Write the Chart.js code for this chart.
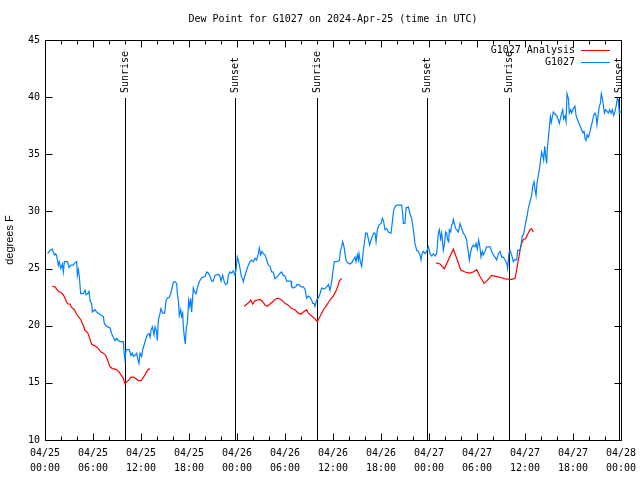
<!DOCTYPE html>
<html>
<head>
<meta charset="utf-8">
<script src="https://cdn.jsdelivr.net/npm/chart.js@4"></script>
<style>
html,body{margin:0;padding:0;background:#fff;}
canvas{display:block;}
</style>
</head>
<body>
<canvas id="c" width="640" height="480"></canvas>
<script>
// ---- data (time in hours since 04/25 00:00 UTC) ----
const titleText = 'Dew Point for G1027 on 2024-Apr-25 (time in UTC)';
const yLabel = 'degrees F';
const xTickDates = ['04/25','04/25','04/25','04/25','04/26','04/26','04/26','04/26','04/27','04/27','04/27','04/27','04/28'];
const xTickTimes = ['00:00','06:00','12:00','18:00','00:00','06:00','12:00','18:00','00:00','06:00','12:00','18:00','00:00'];
const seriesNames = ['G1027 Analysis', 'G1027'];

const eventHours = [10.0, 23.8, 34.0, 47.8, 58.0, 71.75];
const eventLabels = ['Sunrise','Sunset','Sunrise','Sunset','Sunrise','Sunset'];

const obsHours = [0.33,0.63,0.92,1.17,1.33,1.46,1.67,1.79,1.96,2.17,2.29,2.42,2.83,3.0,3.25,3.54,3.75,3.96,4.04,4.17,4.29,4.46,4.79,5.0,5.13,5.33,5.5,5.63,5.83,5.92,6.25,6.46,6.67,7.08,7.29,7.42,7.63,7.83,8.13,8.33,8.54,8.75,8.96,9.17,9.38,9.79,9.92,10.0,10.13,10.54,10.75,10.92,11.08,11.25,11.46,11.58,11.75,11.88,12.08,12.21,12.42,12.63,12.79,13.0,13.13,13.25,13.42,13.63,13.75,13.92,14.04,14.17,14.38,14.5,
14.71,14.96,15.13,15.29,15.54,15.71,15.88,16.04,16.25,16.46,16.54,16.67,16.79,16.96,17.08,17.21,17.29,17.42,17.54,17.67,17.79,17.96,18.08,18.21,18.33,18.46,18.54,18.67,18.88,19.04,19.29,19.58,20.0,20.21,20.42,20.63,20.83,21.04,21.25,21.67,21.88,22.0,22.21,22.38,22.58,22.79,22.92,23.13,23.33,23.54,23.75,23.88,24.04,24.21,24.38,24.54,24.71,24.79,25.0,25.21,25.42,25.63,25.83,26.04,26.25,26.46,26.67,26.79,26.96,27.13,27.29,27.5,27.71,27.92,28.13,28.33,28.54,28.75,
29.17,29.38,29.58,29.79,30.0,30.21,30.75,30.83,31.04,31.33,31.5,31.75,32.0,32.29,32.5,32.71,32.92,33.13,33.33,33.46,33.63,33.75,33.96,34.17,34.38,34.58,34.92,35.21,35.42,35.63,35.83,35.96,36.17,36.46,36.79,36.92,37.08,37.21,37.38,37.5,37.63,37.83,38.13,38.33,38.54,38.75,38.88,39.04,39.17,39.25,39.42,39.58,39.71,39.79,39.92,40.08,40.25,40.42,40.58,40.75,40.92,41.08,41.25,41.38,41.54,41.75,42.0,42.17,42.33,42.5,42.71,42.92,43.25,43.42,
43.58,43.75,43.96,44.58,44.71,44.79,45.0,45.13,45.42,45.63,45.83,46.04,46.25,46.46,46.67,46.88,47.0,47.13,47.29,47.5,47.71,47.92,48.13,48.33,48.54,48.75,48.96,49.17,49.29,49.46,49.58,49.71,49.79,49.92,50.08,50.21,50.33,50.46,50.54,50.71,50.83,50.96,51.04,51.17,51.33,51.46,51.67,51.88,52.08,52.29,52.5,52.71,52.83,52.96,53.04,53.17,53.33,53.54,53.75,53.88,54.04,54.21,54.38,54.5,54.67,54.79,55.0,55.21,55.63,55.83,56.04,56.25,56.46,56.67,56.88,57.08,57.29,57.5,
57.71,57.83,58.0,58.13,58.33,58.54,58.75,58.96,59.08,59.38,59.5,59.67,59.83,60.0,60.13,60.29,60.42,60.63,60.83,60.96,61.13,61.25,61.38,61.5,61.67,61.83,61.96,62.08,62.21,62.33,62.46,62.58,62.71,62.79,62.92,63.04,63.17,63.29,63.42,63.54,63.75,63.96,64.17,64.29,64.42,64.58,64.71,64.83,65.0,65.13,65.25,65.42,65.54,65.71,65.83,66.04,66.25,66.38,66.58,66.75,67.0,67.21,67.38,67.5,67.63,67.75,67.92,68.13,68.25,68.42,68.58,68.75,68.88,69.0,69.17,69.29,69.42,69.54,69.67,69.79,69.92,70.08,70.25,70.42,70.58,70.75,70.92,71.08,71.25,71.42,71.54,71.67,71.79,71.96];
const obsValues = [26.3,26.6,26.7,26.2,26.3,26.1,25.3,25.6,25.0,25.4,24.7,25.6,25.6,25.1,25.3,25.3,25.5,25.6,24.4,24.9,24.3,22.8,22.8,23.1,22.7,22.8,23.0,22.2,21.9,21.2,21.4,21.2,21.1,20.9,20.8,20.2,20.0,19.9,19.8,19.3,19.0,18.7,18.9,18.7,18.6,18.6,17.4,17.0,17.9,17.9,17.4,17.6,17.3,17.4,17.6,17.1,16.7,17.6,17.3,17.9,18.4,18.9,19.2,19.3,19.0,19.6,19.9,19.2,19.9,19.6,18.7,20.5,21.1,21.5,
21.1,21.1,22.2,22.4,22.5,22.8,23.3,23.8,23.85,23.7,22.8,22.2,20.9,21.4,20.8,21.1,19.9,19.0,18.4,19.9,20.2,22.2,21.7,22.4,21.2,22.5,23.3,23.0,22.8,23.3,23.85,24.2,24.3,24.7,24.6,24.3,23.9,23.9,24.4,24.5,24.3,23.9,24.4,23.9,23.6,23.7,24.4,24.7,24.6,24.8,24.4,24.9,26.0,25.6,25.0,24.3,24.1,23.85,24.4,24.9,25.3,25.6,25.75,25.6,25.9,25.75,26.3,26.8,26.2,26.5,26.3,26.2,25.75,25.3,25.2,24.7,24.7,24.1,
24.4,24.6,24.7,24.4,24.35,23.9,23.9,23.4,23.3,23.4,23.6,23.6,23.4,23.4,23.2,22.4,22.6,22.5,22.25,21.96,21.96,21.7,22.25,22.4,22.8,23.3,23.2,23.4,23.6,23.1,23.85,24.6,25.6,25.6,25.7,26.5,26.9,27.35,26.9,26.3,25.75,25.5,25.4,25.5,25.75,26.0,25.6,26.2,25.75,26.3,25.6,25.2,26.0,26.6,27.2,28.1,28.1,27.6,27.06,27.5,27.8,28.1,28.1,27.35,28.4,28.8,28.95,29.4,29.1,28.4,28.5,28.2,28.1,29.1,
30.1,30.4,30.56,30.56,29.8,28.95,28.95,30.3,30.4,29.8,29.4,28.4,27.2,26.6,26.5,26.2,25.75,26.3,26.5,26.3,26.5,26.9,26.3,26.1,26.3,26.1,26.3,28.1,28.4,27.6,28.1,27.2,26.6,27.06,28.2,28.1,27.5,27.35,28.4,28.2,28.8,28.95,29.3,28.95,28.5,28.4,28.2,28.95,28.5,28.1,27.9,27.5,26.8,26.2,25.75,26.3,26.8,27.06,26.9,27.2,26.7,27.5,26.8,26.0,26.5,26.2,26.5,26.9,26.9,26.5,26.2,26.0,25.75,26.3,26.5,26.0,26.0,25.75,
25.5,25.0,26.4,26.6,26.2,25.6,25.8,25.75,26.6,26.6,27.06,27.9,28.0,28.7,29.2,29.7,30.3,30.85,31.4,32.2,32.6,31.9,31.4,32.45,33.2,33.8,34.6,35.2,34.9,34.5,35.7,34.9,34.2,35.5,36.4,37.3,38.3,37.8,38.3,38.7,38.5,38.4,38.0,37.7,38.1,38.6,38.9,38.1,38.35,37.85,40.3,39.9,38.6,38.9,38.6,39.0,39.2,38.4,38.0,37.7,37.3,36.9,37.0,36.4,36.2,36.7,36.5,37.0,37.4,37.85,38.4,38.6,38.4,37.6,38.6,39.2,39.45,40.3,39.9,39.3,38.6,38.9,38.75,38.6,38.9,38.6,38.9,38.4,38.75,39.3,39.9,39.75,38.6,38.75];

const anaHours = [0.92,1.25,1.46,1.67,2.0,2.29,2.5,2.83,3.13,3.33,3.67,3.96,4.17,4.5,4.79,5.0,5.33,5.54,5.83,6.04,6.33,6.67,7.0,7.29,7.58,7.83,8.13,8.42,8.75,9.04,9.25,9.5,9.79,10.0,10.21,10.42,10.75,11.04,11.33,11.67,12.0,12.21,12.5,12.71,12.92,13.13,
18.0,
24.9,25.25,25.58,25.71,25.96,26.25,26.54,26.88,27.21,27.5,27.79,28.13,28.46,28.75,29.04,29.17,29.58,30.0,30.42,30.83,31.25,31.67,32.0,32.29,32.71,32.92,33.33,33.75,34.04,34.38,34.79,35.21,35.63,36.04,36.33,36.58,36.79,37.08,
43.0,
48.88,49.38,49.92,50.42,51.04,51.46,51.96,52.5,53.04,53.54,53.96,54.38,54.88,55.21,55.83,56.46,57.08,57.5,58.33,58.75,58.96,59.17,59.38,59.58,59.79,60.08,60.33,60.63,60.83,61.04];
const anaValues = [23.45,23.4,23.2,23.0,22.9,22.7,22.4,21.9,21.9,21.6,21.4,21.0,20.8,20.5,20.0,19.6,19.4,19.0,18.4,18.3,18.2,18.0,17.7,17.6,17.4,16.98,16.4,16.25,16.2,16.1,15.96,15.7,15.4,14.9,15.1,15.2,15.5,15.5,15.4,15.2,15.2,15.4,15.7,15.96,16.2,16.2,
null,
21.7,21.9,22.1,22.25,21.9,22.2,22.25,22.3,22.1,21.8,21.7,21.9,22.1,22.3,22.4,22.4,22.25,21.96,21.8,21.5,21.4,21.1,21.0,21.2,21.4,21.1,20.85,20.6,20.35,20.8,21.4,21.8,22.25,22.6,22.98,23.4,23.9,24.15,
null,
25.5,25.4,25.0,25.75,26.7,25.9,24.9,24.7,24.6,24.7,24.9,24.3,23.7,23.9,24.4,24.3,24.2,24.1,24.06,24.15,24.9,25.75,26.6,27.2,27.55,27.6,28.0,28.4,28.5,28.2];

const yMin = 10, yMax = 45, yStep = 5;
const xMin = 0, xMax = 72, xStep = 6, xMinorStep = 2;

// ---- styles ----
const RED = '#ff0000';
const BLUE = '#0080ff';
const MONO = '"DejaVu Sans Mono", "Liberation Mono", monospace';

const pairs = (xs, ys) => xs.map((x, i) => ({x: x, y: ys[i]}));

const decor = {
  id: 'decor',
  beforeDatasetsDraw(chart) {
    const ctx = chart.ctx, a = chart.chartArea;
    const xs = chart.scales.x;
    ctx.save();
    ctx.strokeStyle = '#000';
    ctx.lineWidth = 1;
    ctx.fillStyle = '#000';
    ctx.font = '10px ' + MONO;
    eventHours.forEach((h, i) => {
      const px = Math.round(xs.getPixelForValue(h)) + 0.5;
      ctx.beginPath();
      ctx.moveTo(px, 98);
      ctx.lineTo(px, a.bottom);
      ctx.stroke();
      ctx.save();
      ctx.translate(px, 93);
      ctx.rotate(-Math.PI / 2);
      ctx.textAlign = 'left';
      ctx.textBaseline = 'middle';
      ctx.fillText(eventLabels[i], 0, 0);
      ctx.restore();
    });
    ctx.restore();
  },
  afterDraw(chart) {
    const ctx = chart.ctx, a = chart.chartArea;
    const xs = chart.scales.x, ys = chart.scales.y;
    ctx.save();
    ctx.strokeStyle = '#000';
    ctx.fillStyle = '#000';
    ctx.lineWidth = 1;
    const L = Math.round(a.left) + 0.5, R = Math.round(a.right) + 0.5;
    const T = Math.round(a.top) + 0.5, B = Math.round(a.bottom) + 0.5;
    ctx.beginPath();
    ctx.rect(L, T, R - L, B - T);
    ctx.stroke();
    ctx.beginPath();
    for (let h = xMin; h <= xMax; h += xMinorStep) {
      const px = Math.round(xs.getPixelForValue(h)) + 0.5;
      const len = (h % xStep === 0) ? 7 : 4;
      ctx.moveTo(px, B); ctx.lineTo(px, B - len);
      ctx.moveTo(px, T); ctx.lineTo(px, T + len);
    }
    for (let v = yMin; v <= yMax; v += yStep) {
      const py = Math.round(ys.getPixelForValue(v)) + 0.5;
      ctx.moveTo(L, py); ctx.lineTo(L + 7, py);
      ctx.moveTo(R, py); ctx.lineTo(R - 7, py);
    }
    ctx.stroke();
    ctx.font = '10px ' + MONO;
    ctx.textAlign = 'center';
    ctx.textBaseline = 'middle';
    ctx.fillText(titleText, (a.left + a.right) / 2, 19);
    ctx.save();
    ctx.font = '11px "Liberation Sans", Arial, sans-serif';
    ctx.translate(10, (a.top + a.bottom) / 2);
    ctx.rotate(-Math.PI / 2);
    ctx.fillText(yLabel, 0, 0);
    ctx.restore();
    const colors = [RED, BLUE];
    ctx.font = '10px ' + MONO;
    ctx.textAlign = 'right';
    seriesNames.forEach((name, i) => {
      const y = 50 + i * 12;
      ctx.fillStyle = '#000';
      ctx.fillText(name, 575, y);
      ctx.strokeStyle = colors[i];
      ctx.beginPath();
      ctx.moveTo(581, Math.round(y) + 0.5);
      ctx.lineTo(610, Math.round(y) + 0.5);
      ctx.stroke();
    });
    ctx.restore();
  }
};

new Chart(document.getElementById('c'), {
  type: 'line',
  data: {
    datasets: [
      { label: seriesNames[1], data: pairs(obsHours, obsValues), borderColor: BLUE, borderWidth: 1.2, pointRadius: 0, tension: 0, fill: false, spanGaps: false },
      { label: seriesNames[0], data: pairs(anaHours, anaValues), borderColor: RED, borderWidth: 1.2, pointRadius: 0, tension: 0, fill: false, spanGaps: false }
    ]
  },
  options: {
    responsive: false,
    animation: false,
    devicePixelRatio: 1,
    layout: { padding: { top: 40, right: 19, left: 0, bottom: 0 } },
    plugins: { legend: { display: false }, title: { display: false }, tooltip: { enabled: false } },
    scales: {
      x: {
        type: 'linear', min: xMin, max: xMax, offset: false,
        grid: { display: false }, border: { display: false },
        afterFit(s) { s.height = 40; },
        afterBuildTicks(s) { s.ticks = xTickDates.map((d, i) => ({ value: xMin + i * xStep })); },
        ticks: {
          autoSkip: false, maxRotation: 0, minRotation: 0, padding: -2, color: '#000',
          font: { family: MONO, size: 10, lineHeight: 1.5 },
          callback: (v, i) => [xTickDates[i], xTickTimes[i]]
        }
      },
      y: {
        min: yMin, max: yMax,
        grid: { display: false }, border: { display: false },
        afterFit(s) { s.width = 45; },
        ticks: { stepSize: yStep, padding: -3, color: '#000', font: { family: MONO, size: 10 } }
      }
    }
  },
  plugins: [decor]
});
</script>
</body>
</html>
